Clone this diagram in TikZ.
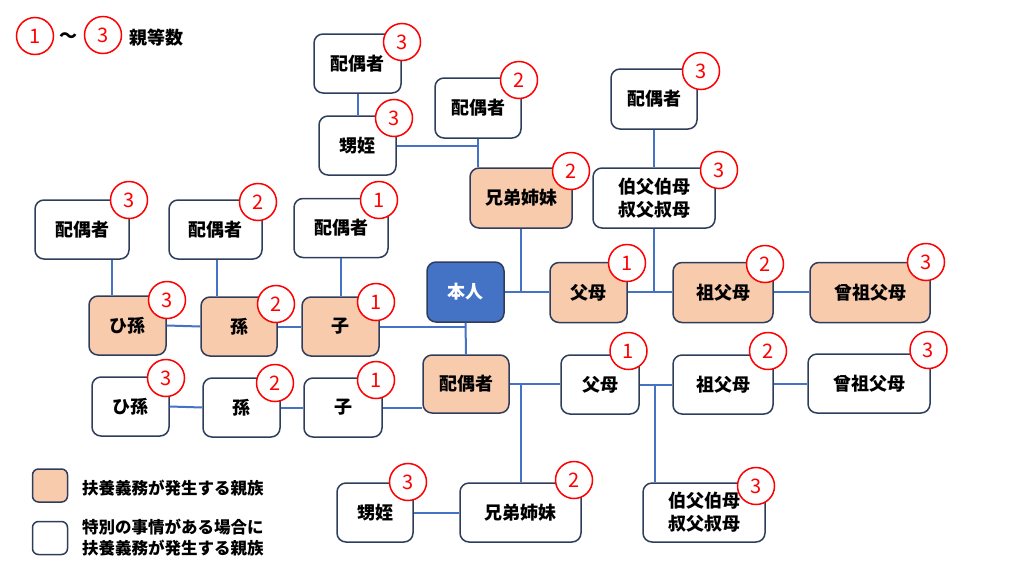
\documentclass[tikz,border=0pt]{standalone}
\usepackage{fontspec}
\setmainfont{Noto Sans CJK JP}
\usetikzlibrary{calc}
\definecolor{peach}{HTML}{F8CBAD}
\definecolor{honblue}{HTML}{4472C4}
\definecolor{edge}{HTML}{2F3D5C}
\definecolor{linkblue}{HTML}{4472C4}
\definecolor{badgered}{HTML}{FF0000}
\tikzset{
  box/.style={draw=edge, line width=1.5pt, rounded corners=9pt, fill=white,
    inner sep=0pt, align=center, font=\fontsize{18}{23}\selectfont\bfseries},
  kin/.style={box, fill=peach},
  self/.style={box, fill=honblue, text=white},
  link/.style={draw=linkblue, line width=2pt},
  badge/.style={circle, draw=badgered, line width=1.5pt, fill=white, text=badgered,
    minimum size=37pt, inner sep=0pt, font=\fontsize{20}{20}\selectfont},
  legendtext/.style={anchor=west, align=left, inner sep=0pt, font=\fontsize{16.5}{21}\selectfont\bfseries},
}
\newcommand{\bx}[6]{\node[#1, minimum width=#5pt, minimum height=#6pt] (#2) at (#3,#4) {\strut #1};}
\begin{document}
\begin{tikzpicture}[x=1pt,y=-1pt]
\useasboundingbox (0,0) rectangle (1024,576);
% legend top
\node[badge] (l1) at (35,36) {1};
\node[font=\fontsize{18}{18}\selectfont\bfseries] (tilde) at (68,38) {～};
\node[badge] (l3) at (103,35) {3};
\node[anchor=west, inner sep=0pt, font=\fontsize{18}{18}\selectfont\bfseries] (lt) at (129,38) {親等数};

% boxes
\def\W#1#2#3#4#5#6{\node[#1, minimum width=#5pt, minimum height=#6pt] (#2) at (#3,#4)}
\W{box}{tsp}{357.5}{63.5}{87}{59} {配偶者};
\W{box}{tnep}{357.5}{145.5}{77}{59} {甥姪};
\W{box}{sibsp}{478}{108}{86}{60} {配偶者};
\W{kin}{sib}{521}{198}{102}{60} {兄弟姉妹};
\W{box}{unsp}{654}{99}{86}{60} {配偶者};
\W{box}{uncle}{654}{198}{122}{60} {伯父伯母\\叔父叔母};
\W{self}{hon}{465.5}{292}{77}{60} {本人};
\W{kin}{fubo}{588.5}{292.5}{77}{60} {父母};
\W{kin}{sofubo}{723}{292.5}{100}{60} {祖父母};
\W{kin}{hiso}{870}{292.5}{120}{60} {曾祖父母};
\W{box}{ksa}{82}{229.5}{94}{59} {配偶者};
\W{box}{ksb}{215.5}{229.5}{93}{59} {配偶者};
\W{box}{ksc}{341}{228}{94}{59} {配偶者};
\W{kin}{hima}{127.5}{325.5}{77}{59} {ひ孫};
\W{kin}{mago}{239}{326.5}{76}{59} {孫};
\W{kin}{ko}{340.5}{326.5}{77}{59} {子};
\W{kin}{sp}{466}{384}{86}{58} {配偶者};
\W{box}{himab}{130.5}{406.5}{77}{59} {ひ孫};
\W{box}{magob}{241.5}{407.5}{77}{59} {孫};
\W{box}{kob}{343}{407.5}{78}{59} {子};
\W{box}{fubob}{600}{384.5}{78}{59} {父母};
\W{box}{sofubob}{723}{384.5}{100}{59} {祖父母};
\W{box}{hisob}{869}{383.5}{122}{59} {曾祖父母};
\W{box}{nepb}{375}{512.5}{76}{59} {甥姪};
\W{box}{sibb}{520.5}{512.5}{121}{59} {兄弟姉妹};
\W{box}{uncleb}{704}{512.5}{122}{59} {伯父伯母\\叔父叔母};

% connectors
\draw[link] (tsp.south) -- (tnep.north);
\draw[link] (sibsp.south) -- (sibsp.south |- sib.north);
\draw[link] (tnep.east) -- (tnep.east -| sibsp.south);
\draw[link] (sib.south) -- (sib.south |- hon.east);
\draw[link] (hon.east) -- (fubo.west |- hon.east);
\draw[link] (unsp.south) -- (uncle.north);
\draw[link] (uncle.south) -- (uncle.south |- hon.east);
\draw[link] (fubo.east |- hon.east) -- (sofubo.west |- hon.east);
\draw[link] (sofubo.east |- hon.east) -- (hiso.west |- hon.east);
\coordinate (ha) at ($(hima.north west)!0.3!(hima.north east)$);
\draw[link] (ha) -- (ha |- ksa.south);
\coordinate (ma) at ($(mago.north west)!0.21!(mago.north east)$);
\draw[link] (ma) -- (ma |- ksb.south);
\draw[link] (ko.north) -- (ko.north |- ksc.south);
\draw[link] (hima.east) -- (mago.west);
\draw[link] (mago.east) -- (ko.west);
\draw[link] (ko.east) -- (ko.east -| hon.south);
\draw[link] (hon.south) -- (sp.north);
\draw[link] (himab.east) -- (magob.west);
\draw[link] (magob.east) -- (kob.west);
\draw[link] (kob.east) -- (kob.east -| sp.west);
\draw[link] (sp.east) -- (sp.east -| fubob.west);
\draw[link] (sibb.north) -- (sibb.north |- sp.east);
\draw[link] (fubob.east) -- (sofubob.west);
\coordinate (ua) at ($(uncleb.north west)!0.107!(uncleb.north east)$);
\draw[link] (ua) -- (ua |- fubob.east);
\draw[link] (sofubob.east |- hisob.west) -- (hisob.west);
\draw[link] (nepb.east) -- (sibb.west);

% badges
\node[badge] (btsp) at (402,42) {3};
\node[badge] (btnep) at (394,118) {3};
\node[badge] (bsibsp) at (519,80) {2};
\node[badge] (bsib) at (571,171) {2};
\node[badge] (bunsp) at (701,71) {3};
\node[badge] (buncle) at (719,170) {3};
\node[badge] (bfubo) at (627,263) {1};
\node[badge] (bsofubo) at (765,264) {2};
\node[badge] (bhiso) at (926,262) {3};
\node[badge] (bksa) at (129,200) {3};
\node[badge] (bksb) at (258,202) {2};
\node[badge] (bksc) at (379,200) {1};
\node[badge] (bhima) at (167,300) {3};
\node[badge] (bmago) at (276,304) {2};
\node[badge] (bko) at (376,302) {1};
\node[badge] (bhimab) at (166,378) {3};
\node[badge] (bmagob) at (275,383) {2};
\node[badge] (bkob) at (376,380) {1};
\node[badge] (bfubob) at (628.5,351) {1};
\node[badge] (bsofubob) at (768,351) {2};
\node[badge] (bhisob) at (928.5,350) {3};
\node[badge] (bnepb) at (408,482) {3};
\node[badge] (bsibb) at (574,480) {2};
\node[badge] (bugb) at (756,486) {3};

% legend bottom
\node[kin, minimum width=35pt, minimum height=33pt, rounded corners=6pt] (lg1) at (50,485.5) {};
\node[legendtext] (lg1t) at (82,488) {扶養義務が発生する親族};
\node[box, minimum width=35pt, minimum height=33pt, rounded corners=6pt] (lg2) at (50,538) {};
\node[legendtext] (lg2t) at (82,538) {特別の事情がある場合に\\扶養義務が発生する親族};
\end{tikzpicture}
\end{document}
